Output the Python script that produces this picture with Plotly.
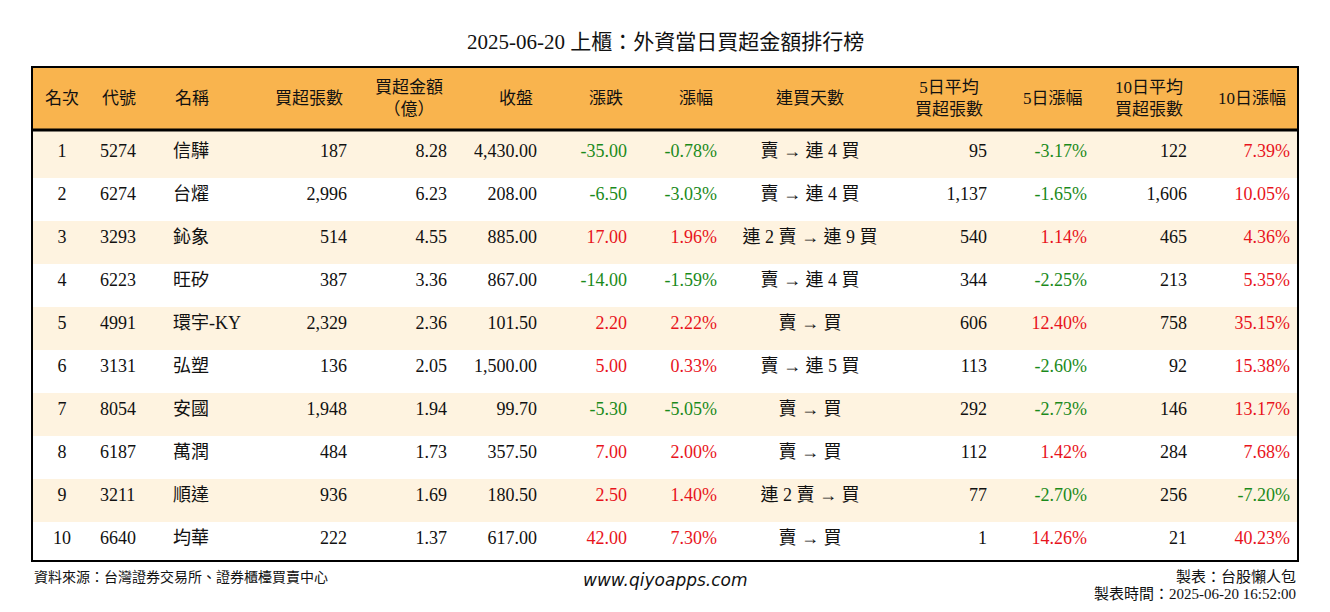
import plotly.graph_objects as go

ranks = [str(i) for i in range(1, 11)]
codes = ['5274', '6274', '3293', '6223', '4991', '3131', '8054', '6187', '3211', '6640']
names = ['信驊', '台燿', '鈊象', '旺矽', '環宇-KY', '弘塑', '安國', '萬潤', '順達', '均華']
buy_lots = ['187', '2,996', '514', '387', '2,329', '136', '1,948', '484', '936', '222']
buy_amount = ['8.28', '6.23', '4.55', '3.36', '2.36', '2.05', '1.94', '1.73', '1.69', '1.37']
close = ['4,430.00', '208.00', '885.00', '867.00', '101.50', '1,500.00', '99.70', '357.50', '180.50', '617.00']
change = [-35.00, -6.50, 17.00, -14.00, 2.20, 5.00, -5.30, 7.00, 2.50, 42.00]
change_pct = [-0.78, -3.03, 1.96, -1.59, 2.22, 0.33, -5.05, 2.00, 1.40, 7.30]
streak = ['賣 → 連 4 買', '賣 → 連 4 買', '連 2 賣 → 連 9 買', '賣 → 連 4 買', '賣 → 買',
          '賣 → 連 5 買', '賣 → 買', '賣 → 買', '連 2 賣 → 買', '賣 → 買']
avg5 = ['95', '1,137', '540', '344', '606', '113', '292', '112', '77', '1']
pct5 = [-3.17, -1.65, 1.14, -2.25, 12.40, -2.60, -2.73, 1.42, -2.70, 14.26]
avg10 = ['122', '1,606', '465', '213', '758', '92', '146', '284', '256', '21']
pct10 = [7.39, 10.05, 4.36, 5.35, 35.15, 15.38, 13.17, 7.68, -7.20, 40.23]

headers = ['名次', '代號', '名稱', '買超張數', '買超金額<br>（億）', '收盤', '漲跌', '漲幅',
           '連買天數', '5日平均<br>買超張數', '5日漲幅', '10日平均<br>買超張數', '10日漲幅']
widths = [60, 73, 95, 95, 100, 90, 90, 90, 170, 100, 100, 100, 103]
aligns = ['center', 'left', 'left', 'right', 'right', 'right', 'right', 'right',
          'center', 'right', 'right', 'right', 'right']

GREEN, RED, BLACK = '#1b8a1b', '#e8141c', '#111111'
CREAM = '#fef3e0'


def col(v):
    return GREEN if v < 0 else RED


def pct(v):
    return '%.2f%%' % v


values = [ranks, codes, names, buy_lots, buy_amount, close,
          ['%.2f' % v for v in change], [pct(v) for v in change_pct], streak,
          avg5, [pct(v) for v in pct5], avg10, [pct(v) for v in pct10]]
colors = [[BLACK] * 10] * 6 + [[col(v) for v in change], [col(v) for v in change_pct],
                               [BLACK] * 10, [BLACK] * 10, [col(v) for v in pct5],
                               [BLACK] * 10, [col(v) for v in pct10]]
row_fill = [CREAM if i % 2 == 0 else '#ffffff' for i in range(10)]

FONT = 'Liberation Serif, Noto Sans CJK TC'
# page body has an 8px margin, so the figure is sized to fit inside it
OFF = 8
W, H = 1330 - 2 * OFF, 612 - 2 * OFF
x0, x1, y_top, y_head, y_bot = 32, 1298, 67, 130, 561
SHIFT = 5  # pushes cell text down to sit mid-row


def px(x):
    return (x - OFF) / W


def py(y):
    return 1 - (y - OFF) / H


fig = go.Figure(go.Table(
    columnwidth=widths,
    domain=dict(x=[px(x0), px(x1)], y=[0, py(y_head + SHIFT)]),
    header=dict(values=[''] * 13, height=0.01, line_width=0, fill_color='white'),
    cells=dict(values=values, fill_color=[row_fill] * 13, line_width=0, height=43,
               align=aligns, font=dict(family=FONT, size=18, color=colors)),
))

# header band drawn as shape + annotations so text is vertically centred
fig.add_shape(type='rect', xref='paper', yref='paper', x0=px(x0), x1=px(x1),
              y0=py(y_head), y1=py(y_top), fillcolor='#f9b44e', line_width=0, layer='below')
fig.add_shape(type='rect', xref='paper', yref='paper', x0=px(x0), x1=px(x1),
              y0=py(y_head + SHIFT + 1), y1=py(y_head), fillcolor=CREAM, line_width=0,
              layer='below')
total = sum(widths)
edge = x0
for h, w, a in zip(headers, widths, aligns):
    cw = w / total * (x1 - x0)
    if a == 'left':
        xpos, anchor = edge + 8, 'left'
    elif a == 'right':
        xpos, anchor = edge + cw - 10, 'right'
    else:
        xpos, anchor = edge + cw / 2, 'center'
    fig.add_annotation(text=h, x=px(xpos), y=py((y_top + y_head) / 2), xref='paper',
                       yref='paper', xanchor=anchor, yanchor='middle', showarrow=False,
                       align='center', font=dict(family=FONT, size=17, color=BLACK))
    edge += cw

fig.add_shape(type='rect', xref='paper', yref='paper', x0=px(x0), x1=px(x1),
              y0=py(y_bot + SHIFT + 2), y1=py(y_bot + 1), fillcolor='white', line_width=0)
fig.add_shape(type='rect', xref='paper', yref='paper', x0=px(x0), x1=px(x1),
              y0=py(y_bot), y1=py(y_top), line=dict(color='black', width=2))
fig.add_shape(type='line', xref='paper', yref='paper', x0=px(x0), x1=px(x1),
              y0=py(y_head), y1=py(y_head), line=dict(color='black', width=3))

fig.add_annotation(text='2025-06-20 上櫃：外資當日買超金額排行榜', x=0.5, y=py(42),
                   xref='paper', yref='paper', yanchor='middle', showarrow=False,
                   font=dict(family=FONT, size=21, color=BLACK))
fig.add_annotation(text='資料來源：台灣證券交易所、證券櫃檯買賣中心', x=px(x0), y=py(577),
                   xref='paper', yref='paper', xanchor='left', yanchor='middle', showarrow=False,
                   font=dict(family=FONT, size=14, color=BLACK))
fig.add_annotation(text='<i>www.qiyoapps.com</i>', x=0.5, y=py(580),
                   xref='paper', yref='paper', yanchor='middle', showarrow=False,
                   font=dict(family='DejaVu Sans', size=17, color=BLACK))
fig.add_annotation(text='製表：台股懶人包', x=px(x1), y=py(577),
                   xref='paper', yref='paper', xanchor='right', yanchor='middle', showarrow=False,
                   font=dict(family=FONT, size=15, color=BLACK))
fig.add_annotation(text='製表時間：2025-06-20 16:52:00', x=px(x1), y=py(594),
                   xref='paper', yref='paper', xanchor='right', yanchor='middle', showarrow=False,
                   font=dict(family=FONT, size=15, color=BLACK))

fig.update_layout(width=W, height=H, margin=dict(l=0, r=0, t=0, b=0),
                  paper_bgcolor='white')
fig.write_html('out.html')
